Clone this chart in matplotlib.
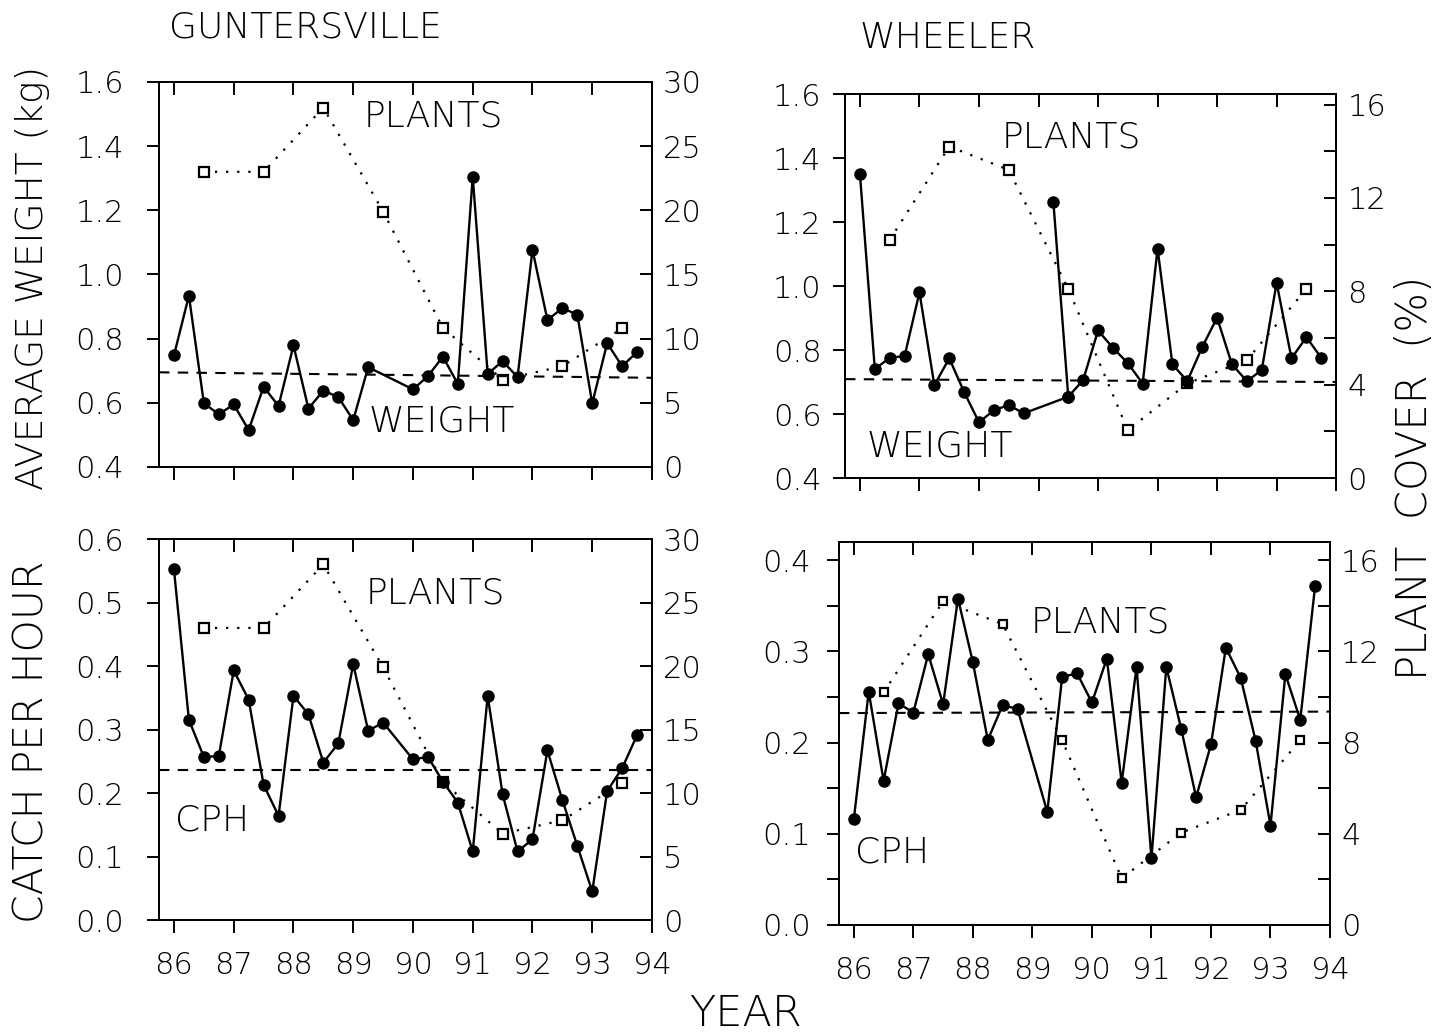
import matplotlib.pyplot as plt
from matplotlib.ticker import MultipleLocator

plt.rcParams['font.family'] = ['DejaVu Sans']
plt.rcParams['font.weight'] = 200

# --- data (quarterly samples, year 86 = 1986) ---
gunt_w_years = [86.0, 86.25, 86.5, 86.75, 87.0, 87.25, 87.5, 87.75, 88.0, 88.25, 88.5, 88.75,
                89.0, 89.25, 90.0, 90.25, 90.5, 90.75, 91.0, 91.25, 91.5, 91.75, 92.0, 92.25,
                92.5, 92.75, 93.0, 93.25, 93.5, 93.75]
gunt_weight = [0.748, 0.934, 0.599, 0.564, 0.595, 0.515, 0.650, 0.590, 0.779, 0.582, 0.638, 0.618,
               0.546, 0.711, 0.642, 0.683, 0.744, 0.659, 1.305, 0.690, 0.730, 0.680, 1.077, 0.858,
               0.895, 0.875, 0.598, 0.786, 0.714, 0.758]

gunt_c_years = [86.0, 86.25, 86.5, 86.75, 87.0, 87.25, 87.5, 87.75, 88.0, 88.25, 88.5, 88.75,
                89.0, 89.25, 89.5, 90.0, 90.25, 90.5, 90.75, 91.0, 91.25, 91.5, 91.75, 92.0,
                92.25, 92.5, 92.75, 93.0, 93.25, 93.5, 93.75]
gunt_cph = [0.552, 0.315, 0.257, 0.258, 0.393, 0.347, 0.213, 0.164, 0.353, 0.324, 0.248, 0.278,
            0.403, 0.298, 0.311, 0.253, 0.257, 0.218, 0.185, 0.108, 0.353, 0.198, 0.108, 0.127,
            0.267, 0.189, 0.117, 0.045, 0.203, 0.239, 0.291]

wh_w_years = [86.0, 86.25, 86.5, 86.75, 87.0, 87.25, 87.5, 87.75, 88.0, 88.25, 88.5, 88.75,
              89.5, 89.75, 90.0, 90.25, 90.5, 90.75, 91.0, 91.25, 91.5, 91.75, 92.0, 92.25,
              92.5, 92.75, 93.0, 93.25, 93.5, 93.75]
wh_weight = [1.350, 0.740, 0.776, 0.781, 0.980, 0.690, 0.774, 0.669, 0.574, 0.612, 0.628, 0.602,
             0.654, 0.706, 0.861, 0.807, 0.759, 0.695, 1.117, 0.755, 0.703, 0.809, 0.901, 0.755,
             0.703, 0.737, 1.010, 0.774, 0.840, 0.776]
# single sample that is only joined to the 89.5 point
wh_spur_year = 89.25
wh_spur_weight = 1.262

wh_c_years = [86.0, 86.25, 86.5, 86.75, 87.0, 87.25, 87.5, 87.75, 88.0, 88.25, 88.5, 88.75,
              89.25, 89.5, 89.75, 90.0, 90.25, 90.5, 90.75, 91.0, 91.25, 91.5, 91.75, 92.0,
              92.25, 92.5, 92.75, 93.0, 93.25, 93.5, 93.75]
wh_cph = [0.116, 0.256, 0.158, 0.243, 0.233, 0.297, 0.242, 0.358, 0.288, 0.203, 0.241, 0.237,
          0.124, 0.272, 0.276, 0.244, 0.292, 0.156, 0.283, 0.073, 0.283, 0.215, 0.140, 0.198,
          0.304, 0.271, 0.202, 0.109, 0.275, 0.225, 0.372]

plant_years = [86.5, 87.5, 88.5, 89.5, 90.5, 91.5, 92.5, 93.5]
gunt_plants = [23.0, 23.0, 28.0, 19.9, 10.85, 6.8, 7.85, 10.8]
wh_plants = [10.2, 14.2, 13.2, 8.1, 2.05, 4.05, 5.05, 8.1]

# mean / trend lines: value at left and right edge
gunt_w_trend = [0.695, 0.678]
gunt_c_trend = [0.236, 0.236]
wh_w_trend = [0.709, 0.700]
wh_c_trend = [0.2324, 0.234]

year_ticks = [86, 87, 88, 89, 90, 91, 92, 93, 94]
XLIM = (85.75, 94.0)

fig = plt.figure(figsize=(14.55, 10.32), dpi=100)

FS_TICK = 22
FS_TEXT = 26


def panel(rect, years, vals, plants, trend, ylim, ystep, y2lim, y2step,
          y2minor=None, yminor=None, xlabels=False, lpad=12, sq=7):
    ax = fig.add_axes(rect)
    ax2 = ax.twinx()
    # plants behind the fish data
    ax.set_zorder(ax2.get_zorder() + 1)
    ax.patch.set_visible(False)

    ax2.plot(plant_years, plants, color='black', linestyle=(0, (1, 4)), linewidth=1.6,
             marker='s', markersize=sq, markerfacecolor='white', markeredgewidth=1.6)
    ax.plot(years, vals, color='black', linewidth=1.7, marker='o', markersize=8)
    ax.plot(XLIM, trend, color='black', linestyle=(0, (5, 4)), linewidth=1.5)

    ax.set_xlim(*XLIM)
    ax.set_ylim(*ylim)
    ax2.set_ylim(*y2lim)
    ax.set_xticks(year_ticks)
    ax.yaxis.set_major_locator(MultipleLocator(ystep))
    ax2.yaxis.set_major_locator(MultipleLocator(y2step))
    if yminor:
        ax.yaxis.set_minor_locator(MultipleLocator(yminor))
    if y2minor:
        ax2.yaxis.set_minor_locator(MultipleLocator(y2minor))

    ax.yaxis.set_major_formatter(lambda v, p: f'{v:.1f}')
    ax2.yaxis.set_major_formatter(lambda v, p: f'{v:.0f}')

    ax.tick_params(axis='x', which='both', direction='out', length=9, width=1.4,
                   labelsize=FS_TICK, pad=13, labelbottom=xlabels)
    ax.tick_params(axis='y', which='both', direction='out', length=9, width=1.4,
                   labelsize=FS_TICK, pad=lpad)
    ax2.tick_params(axis='y', which='both', direction='in', length=9, width=1.4,
                    labelsize=FS_TICK, pad=8)
    top = ax.secondary_xaxis('top')
    top.set_xticks(year_ticks)
    top.tick_params(direction='in', length=9, width=1.4, labeltop=False)
    for a in (ax, ax2, top):
        for s in a.spines.values():
            s.set_linewidth(1.4)
    return ax, ax2


# Guntersville weight
ax, ax2 = panel([0.1093, 0.5475, 0.3388, 0.3731], gunt_w_years, gunt_weight, gunt_plants,
                gunt_w_trend, (0.4, 1.6), 0.2, (0, 30), 5, lpad=16)
ax.text(0.556, 0.909, 'PLANTS', transform=ax.transAxes, fontsize=FS_TEXT, ha='center', va='center')
ax.text(0.574, 0.119, 'WEIGHT', transform=ax.transAxes, fontsize=FS_TEXT, ha='center', va='center')

# Wheeler weight
ax, ax2 = panel([0.5808, 0.5368, 0.3375, 0.3721], wh_w_years, wh_weight, wh_plants,
                wh_w_trend, (0.4, 1.6), 0.2, (0, 16.45), 4, y2minor=2, lpad=8)
i = wh_w_years.index(89.5)
ax.plot([wh_spur_year, wh_w_years[i]], [wh_spur_weight, wh_weight[i]], color='black',
        linewidth=1.7, marker='o', markersize=8)
ax.text(0.460, 0.888, 'PLANTS', transform=ax.transAxes, fontsize=FS_TEXT, ha='center', va='center')
ax.text(0.193, 0.083, 'WEIGHT', transform=ax.transAxes, fontsize=FS_TEXT, ha='center', va='center')

# Guntersville CPH
ax, ax2 = panel([0.1093, 0.1085, 0.3388, 0.3692], gunt_c_years, gunt_cph, gunt_plants,
                gunt_c_trend, (0, 0.6), 0.1, (0, 30), 5, xlabels=True, lpad=16)
ax.text(0.560, 0.856, 'PLANTS', transform=ax.transAxes, fontsize=FS_TEXT, ha='center', va='center')
ax.text(0.1075, 0.262, 'CPH', transform=ax.transAxes, fontsize=FS_TEXT, ha='center', va='center')

# Wheeler CPH
ax, ax2 = panel([0.5766, 0.1037, 0.3375, 0.3711], wh_c_years, wh_cph, wh_plants,
                wh_c_trend, (0, 0.42), 0.1, (0, 16.8), 4, y2minor=2, yminor=0.05,
                xlabels=True, lpad=11, sq=6)
ax.text(0.532, 0.791, 'PLANTS', transform=ax.transAxes, fontsize=FS_TEXT, ha='center', va='center')
ax.text(0.108, 0.188, 'CPH', transform=ax.transAxes, fontsize=FS_TEXT, ha='center', va='center')

fig.text(0.2096, 0.9729, 'GUNTERSVILLE', fontsize=FS_TEXT, ha='center', va='center')
fig.text(0.651, 0.963, 'WHEELER', fontsize=FS_TEXT, ha='center', va='center')
fig.text(0.022, 0.7306, 'AVERAGE WEIGHT (kg)', fontsize=27, rotation=90, ha='center', va='center')
fig.text(0.022, 0.281, 'CATCH PER HOUR', fontsize=29.5, rotation=90, ha='center', va='center')
fig.text(0.9725, 0.537, 'PLANT  COVER  (%)', fontsize=30, rotation=90, ha='center', va='center')
fig.text(0.512, 0.0184, 'YEAR', fontsize=31, ha='center', va='center')

fig.savefig('out.png', dpi=100)
